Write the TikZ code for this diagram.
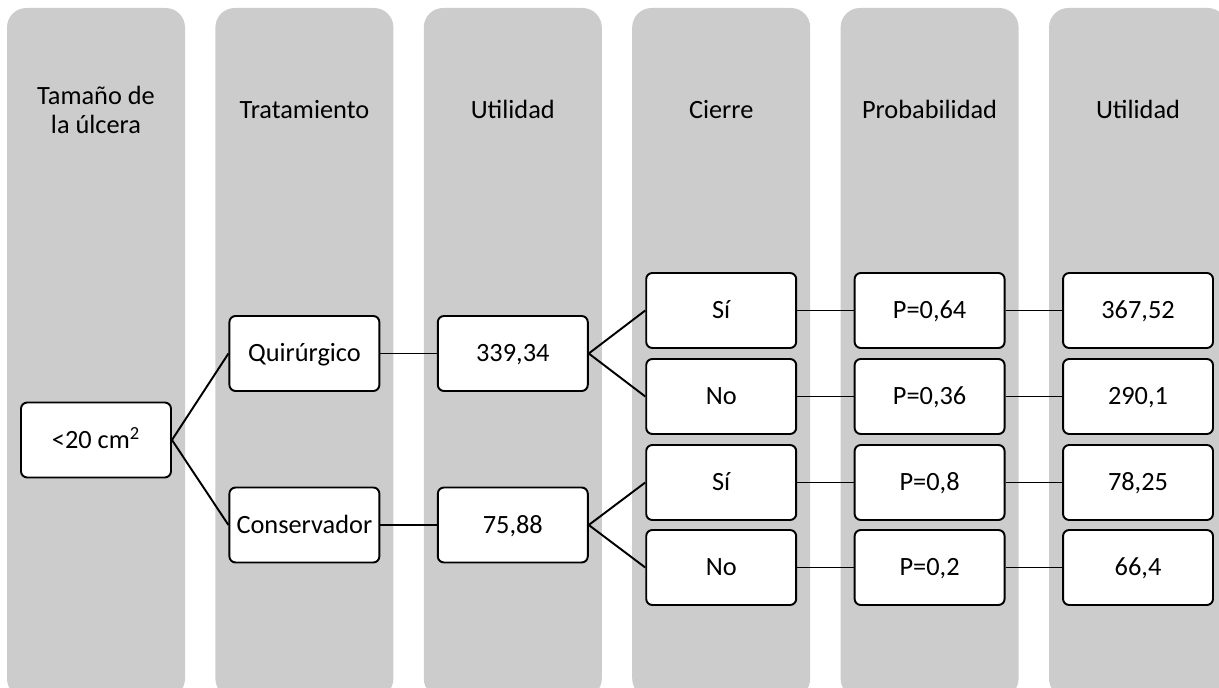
\documentclass[tikz,border=0pt]{standalone}
\usepackage{fontspec}
\setmainfont{Carlito}
\usepackage{tikz}

\definecolor{lanegray}{RGB}{204,204,204}

\begin{document}
\begin{tikzpicture}[
    x=0.02cm, y=-0.02cm,
    lane/.style={fill=lanegray,rounded corners=11pt},
    head/.style={align=center,font=\fontsize{15}{16.5}\selectfont},
    box/.style={draw,fill=white,rounded corners=3.5pt,line width=1.1pt,minimum width=3cm,minimum height=1.5cm,inner sep=0pt,text height=9.6pt,text depth=0pt,font=\fontsize{15}{18}\selectfont},
    link/.style={line width=1.1pt}
  ]
    \clip (0,0) rectangle (1219,688);
    % background lanes
    \foreach \i in {0,...,5}
      \fill[lane] ({7+208.4*\i},8) rectangle ++(178,690);

    % lane titles
    \node[head] (hsize) at (96,110) {Tamaño de\\la úlcera};
    \node[head,anchor=base] (htreat) at (304.4,119) {Tratamiento};
    \node[head,anchor=base] (hutil) at (512.8,119) {Utilidad};
    \node[head,anchor=base] (hclose) at (721.2,119) {Cierre};
    \node[head,anchor=base] (hprob) at (929.6,119) {Probabilidad};
    \node[head,anchor=base] (hval) at (1138,119) {Utilidad};

    \node[box] (size) at (96,440) {<20 cm\textsuperscript{2}};
    \node[box] (quir) at (304.4,353.5) {Quirúrgico};
    \node[box] (cons) at (304.4,525) {Conservador};
    \node[box] (uquir) at (512.8,353.5) {339,34};
    \node[box] (ucons) at (512.8,525) {75,88};
    \node[box] (siq) at (721.2,310.5) {Sí};
    \node[box] (noq) at (721.2,396.5) {No};
    \node[box] (sic) at (721.2,482.5) {Sí};
    \node[box] (noc) at (721.2,567.5) {No};
    \node[box] (psiq) at (929.6,310.5) {P=0,64};
    \node[box] (pnoq) at (929.6,396.5) {P=0,36};
    \node[box] (psic) at (929.6,482.5) {P=0,8};
    \node[box] (pnoc) at (929.6,567.5) {P=0,2};
    \node[box] (vsiq) at (1138,310.5) {367,52};
    \node[box] (vnoq) at (1138,396.5) {290,1};
    \node[box] (vsic) at (1138,482.5) {78,25};
    \node[box] (vnoc) at (1138,567.5) {66,4};

    \draw[link] (size.east) -- (quir.west);
    \draw[link] (size.east) -- (cons.west);
    \draw[link] (quir) -- (uquir);
    \draw[link] (cons) -- (ucons);
    \draw[link] (uquir.east) -- (siq.west);
    \draw[link] (uquir.east) -- (noq.west);
    \draw[link] (ucons.east) -- (sic.west);
    \draw[link] (ucons.east) -- (noc.west);
    \draw[link] (siq) -- (psiq);
    \draw[link] (noq) -- (pnoq);
    \draw[link] (sic) -- (psic);
    \draw[link] (noc) -- (pnoc);
    \draw[link] (psiq) -- (vsiq);
    \draw[link] (pnoq) -- (vnoq);
    \draw[link] (psic) -- (vsic);
    \draw[link] (pnoc) -- (vnoc);
\end{tikzpicture}
\end{document}
